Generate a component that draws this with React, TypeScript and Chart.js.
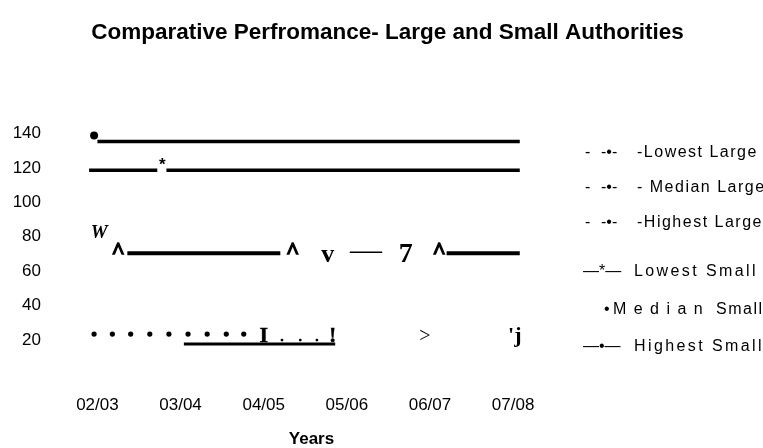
import React, { useEffect, useRef } from 'react';
import { Chart, registerables } from 'chart.js';

Chart.register(...registerables);

// ---------- data ----------
const categories = ['02/03', '03/04', '04/05', '05/06', '06/07', '07/08'];
const yTickValues = [20, 40, 60, 80, 100, 120, 140];

// Highest Small: solid line with a dot marker at its start
const highestSmallLine = [{ x: 0.0, y: 135.4 }, { x: 5.08, y: 135.4 }];
const highestSmallDot = [{ x: -0.04, y: 138.8 }];

// Lowest Small: solid line broken by a '*' marker
const lowestSmallLineA = [{ x: -0.1, y: 118.6 }, { x: 0.72, y: 118.6 }];
const lowestSmallLineB = [{ x: 0.83, y: 118.6 }, { x: 5.08, y: 118.6 }];

// Large authorities row (scanned as glyphs and line pieces)
const largeLineA = [{ x: 0.36, y: 70.4 }, { x: 2.2, y: 70.4 }];
const largeLineB = [{ x: 4.2, y: 70.4 }, { x: 5.08, y: 70.4 }];

// Median Small: dotted row
const medianDotsX = [-0.04, 0.18, 0.4, 0.63, 0.86, 1.09, 1.32, 1.55, 1.76];
const medianDotsY = [23.5, 23.5, 23.5, 23.5, 23.5, 23.5, 23.5, 23.5, 23.5];
const medianPeriodsX = [2.22, 2.44, 2.64];
const medianPeriodsY = [20.0, 20.0, 20.0];
const medianUnderline = [{ x: 1.04, y: 17.7 }, { x: 2.86, y: 17.7 }];

// glyph marks (text, x in category units, y baseline value)
const glyphText = ['*', 'W', '^', '^', 'v', '\u2014', '7', '^', 'I', '!', '>', "'j"];
const glyphX = [0.78, 0.02, 0.25, 2.35, 2.77, 3.23, 3.71, 4.11, 2.0, 2.83, 3.94, 5.02];
const glyphY = [118.6, 79.1, 67.8, 67.8, 65.2, 66.4, 65.2, 67.8, 18.8, 18.8, 18.8, 18.8];

const legendMarkers = ['- -\u2022-', '- -\u2022-', '- -\u2022-', '\u2014*\u2014', '\u2022', '\u2014\u2022\u2014'];
const legendLabels = ['-Lowest Large', '- Median Large', '-Highest Large', 'Lowest Small', 'M e d i a n  Small', 'Highest Small'];

// ---------- styles ----------
const SANS = '"Liberation Sans", Arial, sans-serif';
const SERIF = '"Liberation Serif", "Times New Roman", serif';
const glyphFonts: Record<string, string> = {
  '*': `bold 17px ${SANS}`,
  'W': `italic bold 19px ${SERIF}`,
  '^': `bold 23px ${SERIF}`,
  'v': `bold 26px ${SERIF}`,
  '\u2014': `32px ${SERIF}`,
  '7': `bold 28px ${SERIF}`,
  'I': `bold 22px ${SERIF}`,
  '!': `bold 22px ${SERIF}`,
  '>': `20px ${SERIF}`,
  "'j": `bold 22px ${SERIF}`,
};
const glyphStroke: Record<string, number> = { '^': 1.3, 'I': 0.4, '!': 0.4 };

const glyphPlugin = {
  id: 'glyphs',
  afterDatasetsDraw(chart: any) {
    const { ctx, scales } = chart;
    const xs = scales.x;
    const ys = scales.y;
    ctx.save();
    ctx.fillStyle = '#000';
    ctx.strokeStyle = '#000';
    ctx.textAlign = 'center';
    ctx.textBaseline = 'alphabetic';
    glyphText.forEach((t, i) => {
      ctx.font = glyphFonts[t];
      const px = xs.getPixelForValue(glyphX[i]);
      const py = ys.getPixelForValue(glyphY[i]);
      ctx.fillText(t, px, py);
      if (glyphStroke[t]) {
        ctx.lineWidth = glyphStroke[t];
        ctx.strokeText(t, px, py);
      }
    });
    ctx.restore();
  },
};

const legendRowsY = [153, 188, 223, 272, 310, 347];

const legendPlugin = {
  id: 'customLegend',
  afterDraw(chart: any) {
    const { ctx } = chart;
    ctx.save();
    ctx.fillStyle = '#000';
    ctx.textAlign = 'left';
    ctx.textBaseline = 'middle';
    ctx.font = `16px ${SANS}`;
    legendMarkers.forEach((m, i) => {
      const y = legendRowsY[i];
      (ctx as any).letterSpacing = '0px';
      if (i < 3) {
        const parts = m.split(' ');
        ctx.fillText(parts[0], 585, y);
        ctx.fillText(parts[1], 601, y);
        (ctx as any).letterSpacing = '1.5px';
        ctx.fillText(legendLabels[i], 637, y);
      } else if (i === 4) {
        ctx.fillText(m, 604, y);
        (ctx as any).letterSpacing = '1.5px';
        ctx.fillText(legendLabels[i], 613, y);
      } else {
        ctx.fillText(m, 583, y);
        (ctx as any).letterSpacing = '2.4px';
        ctx.fillText(legendLabels[i], 634, y);
      }
    });
    ctx.restore();
  },
};

export default function App() {
  const ref = useRef<HTMLCanvasElement>(null);
  useEffect(() => {
    if (!ref.current) return;
    Chart.defaults.color = '#000';
    const lineDs = (data: any[], width: number) => ({
      data,
      showLine: true,
      borderColor: '#000',
      borderWidth: width,
      pointRadius: 0,
      clip: false as any,
    });
    const pointDs = (xs: number[], ys: number[], r: number) => ({
      data: xs.map((x, i) => ({ x, y: ys[i] })),
      showLine: false,
      pointRadius: r,
      pointBackgroundColor: '#000',
      pointBorderWidth: 0,
      clip: false as any,
    });
    const chart = new Chart(ref.current, {
      type: 'scatter',
      data: {
        datasets: [
          { label: 'Highest Small', ...lineDs(highestSmallLine, 3.5) },
          { label: 'Highest Small marker', ...pointDs(highestSmallDot.map((p) => p.x), highestSmallDot.map((p) => p.y), 4) },
          { label: 'Lowest Small', ...lineDs(lowestSmallLineA, 3.5) },
          { label: 'Lowest Small b', ...lineDs(lowestSmallLineB, 3.5) },
          { label: 'Large', ...lineDs(largeLineA, 4) },
          { label: 'Large b', ...lineDs(largeLineB, 4) },
          { label: 'Median Small', ...pointDs(medianDotsX, medianDotsY, 2.6) },
          { label: 'Median Small periods', ...pointDs(medianPeriodsX, medianPeriodsY, 1.4) },
          { label: 'Median Small underline', ...lineDs(medianUnderline, 3) },
        ] as any,
      },
      options: {
        animation: false,
        responsive: false,
        maintainAspectRatio: false,
        layout: { padding: { left: 12, right: 0, top: 0, bottom: 0 } },
        plugins: {
          legend: { display: false },
          tooltip: { enabled: false },
          title: {
            display: true,
            text: 'Comparative Perfromance- Large and Small Authorities',
            color: '#000',
            font: { family: SANS, size: 22.5, weight: 'bold', lineHeight: 1.2 },
            padding: { top: 19, bottom: 70.25 },
          },
        },
        scales: {
          x: {
            type: 'linear',
            position: 'bottom',
            min: -0.45,
            max: 5.6,
            grid: { display: false, drawTicks: false },
            border: { display: false },
            afterBuildTicks: (s: any) => {
              s.ticks = categories.map((_, i) => ({ value: i }));
            },
            afterFit: (s: any) => {
              s.height = 73.5;
            },
            ticks: {
              padding: 21,
              color: '#000',
              font: { family: SANS, size: 17 },
              callback: (v: any) => categories[v as number] ?? '',
            },
            title: {
              display: true,
              text: 'Years',
              color: '#000',
              font: { family: SANS, size: 17, weight: 'bold', lineHeight: 1 },
              padding: { top: 0, bottom: 0 },
            },
          },
          y: {
            type: 'linear',
            position: 'left',
            min: 0,
            max: 150,
            grid: { display: false, drawTicks: false },
            border: { display: false },
            afterBuildTicks: (s: any) => {
              s.ticks = yTickValues.map((v) => ({ value: v }));
            },
            afterFit: (s: any) => {
              s.width = 48;
            },
            ticks: {
              padding: 19,
              color: '#000',
              font: { family: SANS, size: 17 },
            },
          },
          yR: {
            type: 'linear',
            position: 'right',
            display: true,
            grid: { display: false, drawTicks: false },
            border: { display: false },
            ticks: { display: false },
            afterFit: (s: any) => {
              s.width = 200;
            },
          },
        },
      } as any,
      plugins: [glyphPlugin, legendPlugin],
    });
    return () => chart.destroy();
  }, []);
  return (
    <div style={{ position: 'absolute', left: 0, top: 0, width: 763, height: 448, background: '#fff' }}>
      <canvas ref={ref} width={763} height={448} style={{ display: 'block', width: 763, height: 448 }} />
    </div>
  );
}
